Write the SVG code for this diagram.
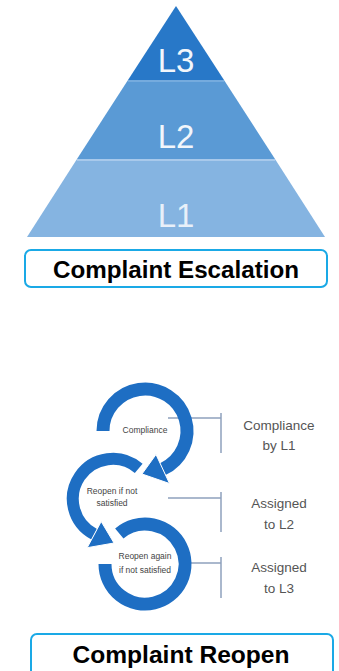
<svg xmlns="http://www.w3.org/2000/svg" width="339" height="671" viewBox="0 0 339 671">
<style>
.lvl{font-family:"Liberation Sans",Arial,sans-serif;font-size:33px;text-anchor:middle}
.title{font-family:"Liberation Sans",Arial,sans-serif;font-weight:bold;font-size:23px;fill:#000;text-anchor:middle}
.tbox{fill:#fff;stroke:#1aa9e6;stroke-width:2}
.arc{fill:none;stroke:#1e6ec3;stroke-linecap:butt}
.head{fill:#1e6ec3;stroke:#fff;stroke-width:1}
.inner{font-family:"Liberation Sans",Arial,sans-serif;font-size:8.5px;fill:#444;text-anchor:middle}
.side{font-family:"Liberation Sans",Arial,sans-serif;font-size:13.5px;fill:#555;text-anchor:middle}
.conn{fill:none;stroke:#8fa1bd;stroke-width:1.5}
</style>
<rect width="339" height="671" fill="#fff"/>
<g id="pyramid">
<polygon points="176,6 128,80 224,80" fill="#2878c8"/>
<polygon points="128,80 224,80 275,159 77,159" fill="#5a9ad5"/>
<polygon points="77,159 275,159 325,237 27,237" fill="#85b4e1"/>
<line x1="128" y1="81" x2="224" y2="81" stroke="#7fb0e0" stroke-width="1.5"/>
<line x1="77" y1="160" x2="275" y2="160" stroke="#b5d0ee" stroke-width="1.5"/>
<text class="lvl" x="176" y="72" fill="#f2f6fb">L3</text>
<text class="lvl" x="176" y="148" fill="#f2f6fb">L2</text>
<text class="lvl" x="176" y="227" fill="#e8f0f9">L1</text>
</g>
<g id="title-escalation">
<rect class="tbox" x="25" y="250" width="302" height="37" rx="6"/>
<text class="title" x="176" y="278" textLength="246" lengthAdjust="spacingAndGlyphs">Complaint Escalation</text>
</g>
<g id="connectors">
<path class="conn" d="M168,418 H221 M221,413 V453"/>
<path class="conn" d="M168,498 H221 M221,492 V532"/>
<path class="conn" d="M180,563 H221 M221,557 V598"/>
</g>
<g id="circle3">
<path class="arc" stroke-width="13" d="M105,564 A40,40 0 1 0 119.3,533.4"/>
<text class="inner" x="145" y="559">Reopen again</text>
<text class="inner" x="145" y="573">if not satisfied</text>
</g>
<g id="circle2">
<path class="arc" stroke-width="12" d="M138.7,468.4 A40,40 0 1 0 94.2,534.3"/>
<polygon class="head" points="101.2,521.5 87.2,547.7 114,543"/>
<text class="inner" x="112" y="494">Reopen if not</text>
<text class="inner" x="112" y="506">satisfied</text>
</g>
<g id="circle1">
<path class="arc" stroke-width="13" d="M103,431 A42,42 0 1 1 162.8,469.1"/>
<polygon class="head" points="156,454.5 169.5,483.5 142,474"/>
<text class="inner" x="145" y="433">Compliance</text>
</g>
<g id="side-labels">
<text class="side" x="279" y="430">Compliance</text>
<text class="side" x="279" y="450">by L1</text>
<text class="side" x="279" y="508">Assigned</text>
<text class="side" x="279" y="529">to L2</text>
<text class="side" x="279" y="572">Assigned</text>
<text class="side" x="279" y="593">to L3</text>
</g>
<g id="title-reopen">
<rect class="tbox" x="31" y="634" width="302" height="44" rx="6"/>
<text class="title" x="181" y="663" textLength="217" lengthAdjust="spacingAndGlyphs">Complaint Reopen</text>
</g>
</svg>
